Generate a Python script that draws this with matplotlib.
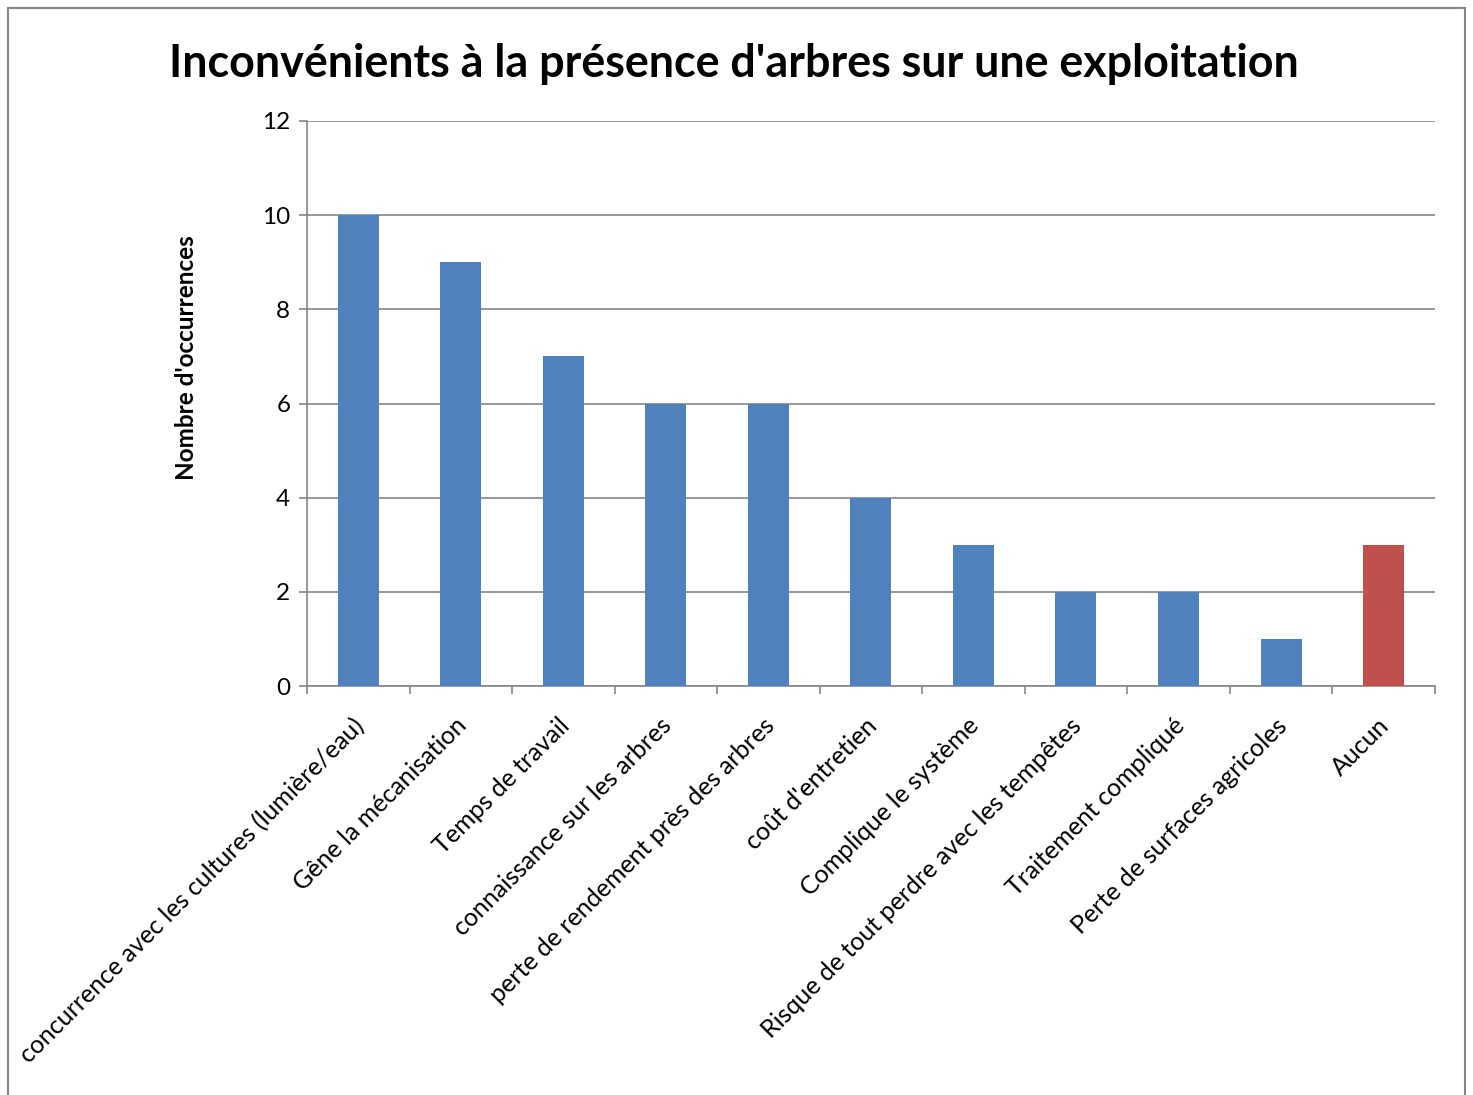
import matplotlib.pyplot as plt
from matplotlib.patches import Rectangle
from matplotlib.transforms import ScaledTranslation

plt.rcParams['font.family'] = ['Lato', 'DejaVu Sans']

# données
categories = [
    "concurrence avec les cultures (lumière/eau)",
    "Gêne la mécanisation",
    "Temps de travail",
    "connaissance sur les arbres",
    "perte de rendement près des arbres",
    "coût d'entretien",
    "Complique le système",
    "Risque de tout perdre avec les tempêtes",
    "Traitement compliqué",
    "Perte de surfaces agricoles",
    "Aucun",
]
occurrences = [10, 9, 7, 6, 6, 4, 3, 2, 2, 1, 3]
couleurs = ['#4F81BD'] * 10 + ['#C0504D']

fig = plt.figure(figsize=(14.73, 10.95), dpi=100)
ax = fig.add_axes([0.2084, 0.3735, 0.7657, 0.516])

x = range(len(categories))
ax.bar(x, occurrences, width=0.4, color=couleurs, zorder=3)

ax.set_xlim(-0.5, len(categories) - 0.5)
ax.set_ylim(0, 12)
ax.set_yticks(range(0, 13, 2))
ax.yaxis.grid(True, color='#868686', linewidth=1.2, zorder=0)

ax.set_xticks([i - 0.5 for i in range(len(categories) + 1)])
ax.set_xticklabels([])
ax.set_xticks(list(x), minor=True)
ax.set_xticklabels(categories, minor=True, rotation=45, ha='right',
                   rotation_mode='anchor', fontsize=18)
ax.tick_params(axis='x', which='minor', length=0, pad=20)
ax.tick_params(axis='x', which='major', length=6, color='#868686', width=1.2)
ax.tick_params(axis='y', length=6, color='#868686', width=1.2, labelsize=17.5, pad=6)

# petit décalage des étiquettes vers la gauche
decal = ScaledTranslation(-0.06, 0, fig.dpi_scale_trans)
for lab in ax.get_xticklabels(minor=True):
    lab.set_transform(lab.get_transform() + decal)

for s in ['top', 'right']:
    ax.spines[s].set_visible(False)
for s in ['left', 'bottom']:
    ax.spines[s].set_color('#868686')
    ax.spines[s].set_linewidth(1.2)

ax.set_ylabel("Nombre d'occurrences", fontsize=17.5, fontweight='bold')
ax.yaxis.set_label_coords(-0.097, 0.582)

fig.text(0.4985, 0.942, "Inconvénients à la présence d'arbres sur une exploitation",
         ha='center', va='center', fontsize=32.3, fontweight='bold')

# cadre autour du graphique
fig.patches.append(Rectangle((0.0055, -0.01), 0.989, 1.003, transform=fig.transFigure,
                             fill=False, edgecolor='#868686', linewidth=1.5))

plt.savefig('out.png', dpi=100)
